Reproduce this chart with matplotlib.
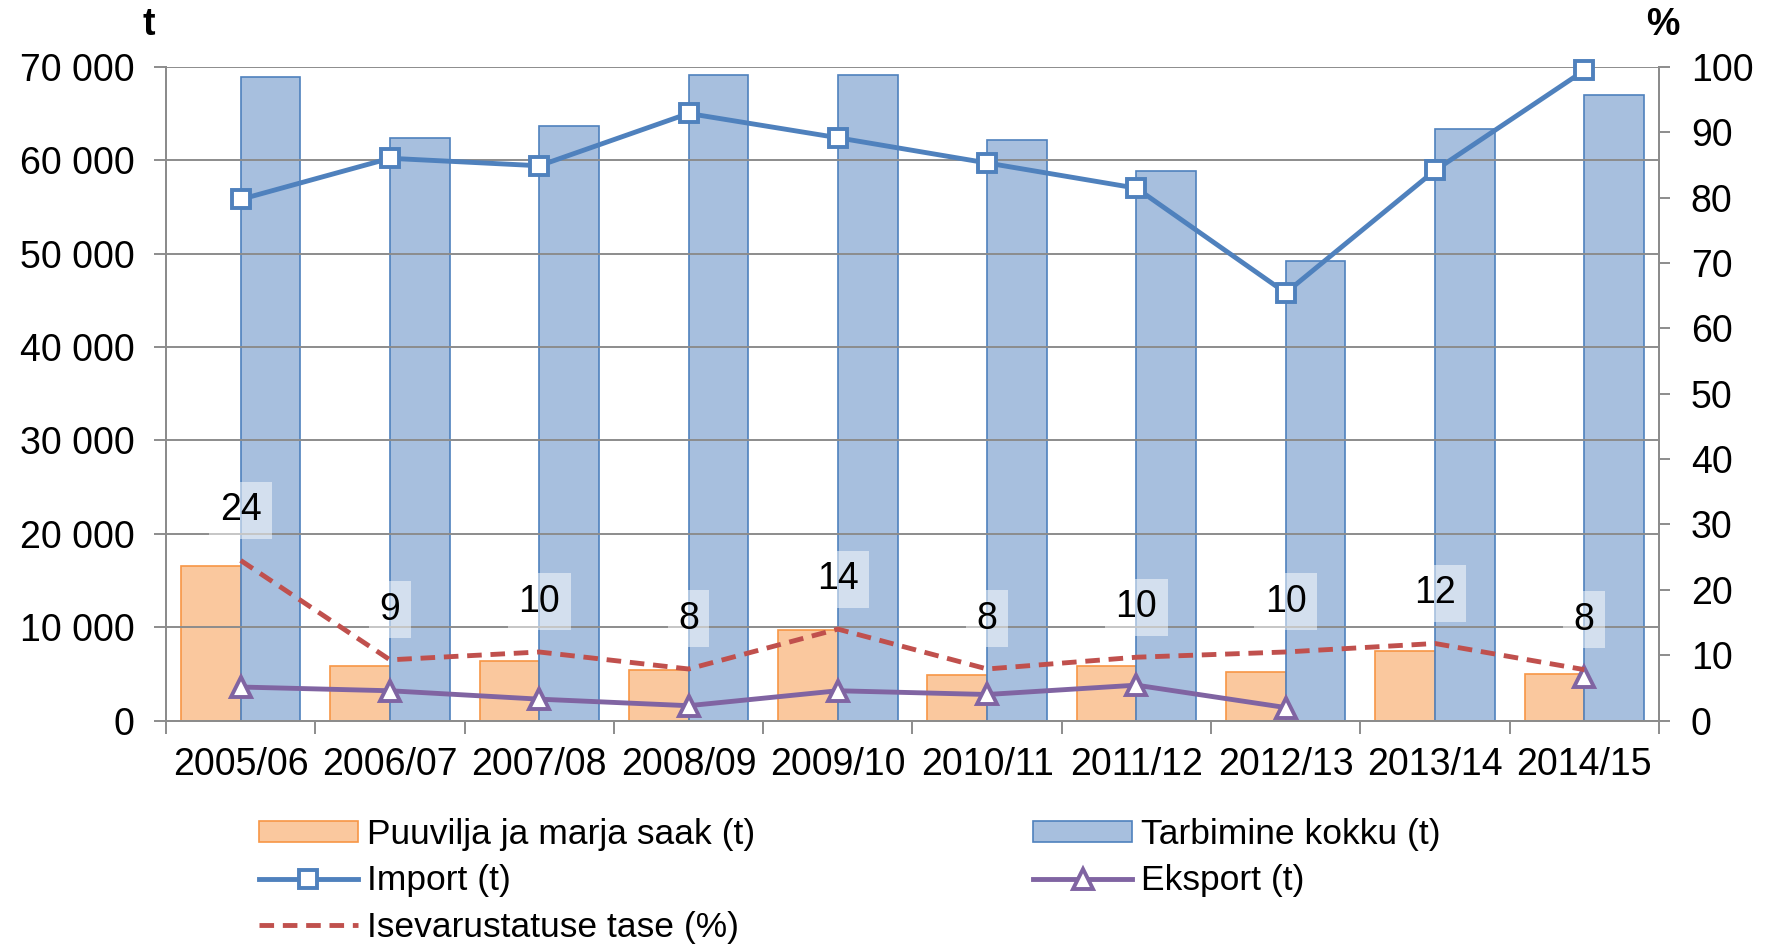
import numpy as np
import matplotlib
matplotlib.use("Agg")
import matplotlib.pyplot as plt
from matplotlib.ticker import FuncFormatter, MultipleLocator
from matplotlib.patches import Patch
from matplotlib.lines import Line2D

plt.rcParams['font.family'] = ['Liberation Sans', 'DejaVu Sans']

# data
seasons = ['2005/06', '2006/07', '2007/08', '2008/09', '2009/10',
           '2010/11', '2011/12', '2012/13', '2013/14', '2014/15']
harvest = [16600, 5800, 6400, 5400, 9700, 4900, 5800, 5200, 7500, 5000]
consumption = [68900, 62400, 63700, 69100, 69100, 62200, 58800, 49200, 63300, 67000]
imports = [55800, 60200, 59400, 65000, 62400, 59700, 57000, 45800, 58900, 69600]
exports = [3600, 3200, 2300, 1600, 3200, 2800, 3800, 1400, np.nan, 4700]
self_suff = [24.5, 9.3, 10.5, 7.9, 14.0, 7.9, 9.7, 10.5, 11.8, 7.8]
self_suff_labels = [24, 9, 10, 8, 14, 8, 10, 10, 12, 8]

FS = 27
GRID = '#8c8c8c'
c_orange, c_orange_edge = '#fac89e', '#f79646'
c_blue, c_blue_edge = '#a7bfde', '#4f81bd'
c_purple = '#8064a2'
c_red = '#c0504d'

fig = plt.figure(figsize=(17.68, 9.44), dpi=100)
ax = fig.add_axes([0.0939, 0.2366, 0.8444, 0.6927])
ax2 = ax.twinx()

x = np.arange(len(seasons))
w = 0.4

# bars
ax.bar(x - w / 2, harvest, w, color=c_orange, edgecolor=c_orange_edge, linewidth=1.2, zorder=1)
ax.bar(x + w / 2, consumption, w, color=c_blue, edgecolor=c_blue_edge, linewidth=1.2, zorder=1)

# lines on left axis
ax.plot(x, imports, color=c_blue_edge, lw=3.5, marker='s', ms=13, mfc='white',
        mec=c_blue_edge, mew=2.8, zorder=4, clip_on=False)
ax.plot(x, exports, color=c_purple, lw=3.5, marker='^', ms=15, mfc='white',
        mec=c_purple, mew=2.8, zorder=4, clip_on=False)

# self-sufficiency on right axis
ax2.plot(x, self_suff, color=c_red, lw=3.5, ls=(0, (3, 1.8)), zorder=3)
for xi, yi, lab in zip(x, self_suff, self_suff_labels):
    ax2.annotate(str(lab), (xi, yi), xytext=(0, 36), textcoords='offset points',
                 ha='center', va='center', fontsize=FS,
                 bbox=dict(boxstyle='square,pad=0.28', fc='white', ec='none', alpha=0.5))

# left axis
ax.set_xlim(-0.5, len(seasons) - 0.5)
ax.set_ylim(0, 70000)
ax.yaxis.set_major_locator(MultipleLocator(10000))
ax.yaxis.set_major_formatter(FuncFormatter(lambda v, p: f"{int(v):,}".replace(",", " ")))
ax.set_axisbelow(False)
ax.grid(axis='y', color=GRID, lw=1.4, zorder=2)
ax.tick_params(axis='y', length=8.5, width=1.4, color=GRID, labelsize=FS, pad=14)

ax.set_xticks(x)
ax.set_xticklabels(seasons)
ax.set_xticks(np.arange(-0.5, len(seasons)), minor=True)
ax.tick_params(axis='x', which='major', length=0, labelsize=FS, pad=19)
ax.tick_params(axis='x', which='minor', length=9, width=1.4, color=GRID)

# right axis
ax2.set_ylim(0, 100)
ax2.yaxis.set_major_locator(MultipleLocator(10))
ax2.tick_params(axis='y', length=8, width=1.4, color=GRID, labelsize=FS, pad=15)

for a in (ax, ax2):
    a.spines['top'].set_visible(False)
    for s in ('left', 'right', 'bottom'):
        a.spines[s].set_color(GRID)
        a.spines[s].set_linewidth(1.4)

fig.text(149 / 1768, 1 - 25 / 944, 't', fontsize=FS, fontweight='bold', ha='center', va='center')
fig.text(1663 / 1768, 1 - 25 / 944, '%', fontsize=FS, fontweight='bold', ha='center', va='center')

# legend (column-major fill: col1 = 3 entries, col2 = 2 entries)
h_harvest = Patch(facecolor=c_orange, edgecolor=c_orange_edge, linewidth=1.2)
h_cons = Patch(facecolor=c_blue, edgecolor=c_blue_edge, linewidth=1.2)
h_imp = Line2D([], [], color=c_blue_edge, lw=3.5, marker='s', ms=13, mfc='white',
               mec=c_blue_edge, mew=2.8)
h_exp = Line2D([], [], color=c_purple, lw=3.5, marker='^', ms=15, mfc='white',
               mec=c_purple, mew=2.8)
h_ss = Line2D([], [], color=c_red, lw=3.5, ls=(0, (3, 1.8)))
fig.legend([h_harvest, h_imp, h_ss, h_cons, h_exp],
           ['Puuvilja ja marja saak (t)', 'Import (t)', 'Isevarustatuse tase (%)',
            'Tarbimine kokku (t)', 'Eksport (t)'],
           ncol=2, loc='upper left', bbox_to_anchor=(241 / 1768, 1 - 800 / 944),
           frameon=False, fontsize=25.5, borderpad=0, handlelength=2.8,
           handleheight=0.55, handletextpad=0.25, columnspacing=7.85, labelspacing=0.38)

fig.savefig('out.png', dpi=100)
